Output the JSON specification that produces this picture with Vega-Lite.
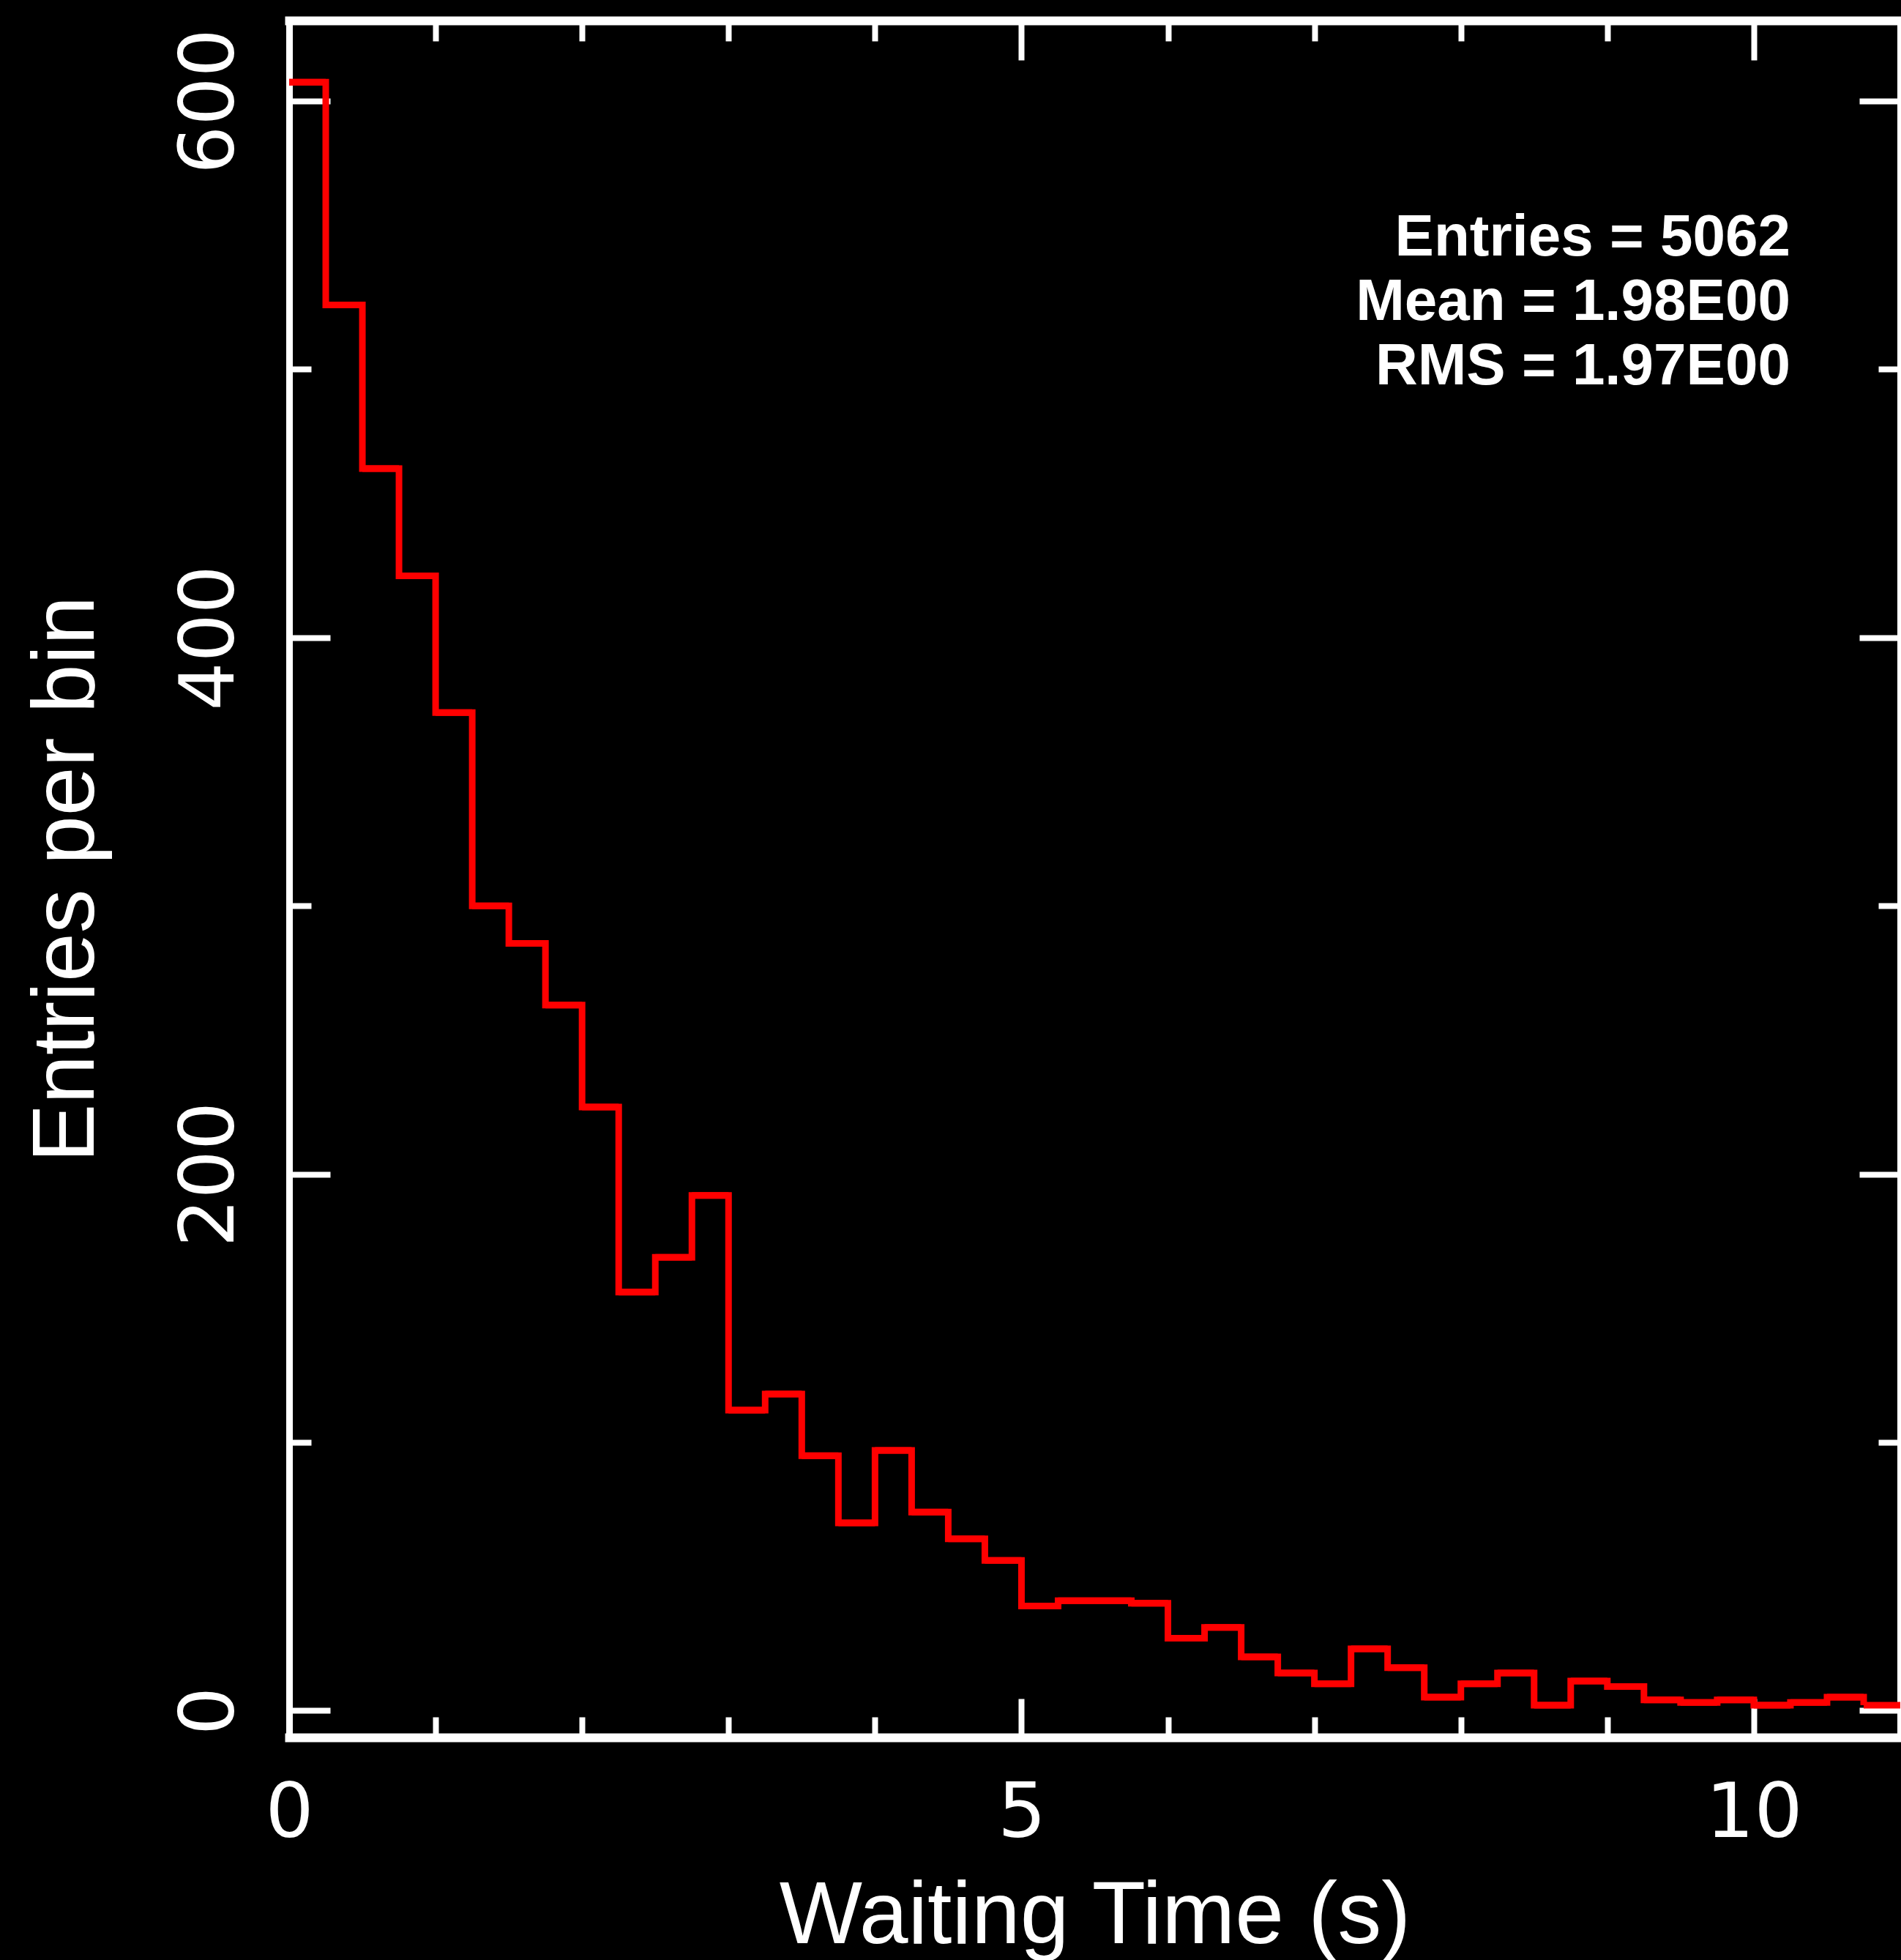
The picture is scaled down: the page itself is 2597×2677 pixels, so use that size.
{
  "$schema": "https://vega.github.io/schema/vega-lite/v6.json",
  "background": "black",
  "autosize": {"type": "none"},
  "padding": {"left": 395, "top": 28, "right": 1, "bottom": 304},
  "width": 2201,
  "height": 2345,
  "config": {
    "view": {"stroke": null},
    "axis": {
      "grid": false,
      "domainColor": "white",
      "tickColor": "white",
      "labelColor": "white",
      "titleColor": "white",
      "tickWidth": 8,
      "labelFlush": false,
      "labelOverlap": false,
      "labelBound": false,
      "labelLimit": 0
    }
  },
  "data": {
    "values": [
      {"lo": 0.0, "hi": 0.25, "n": 607},
      {"lo": 0.25, "hi": 0.5, "n": 524},
      {"lo": 0.5, "hi": 0.75, "n": 463},
      {"lo": 0.75, "hi": 1.0, "n": 423},
      {"lo": 1.0, "hi": 1.25, "n": 372},
      {"lo": 1.25, "hi": 1.5, "n": 300},
      {"lo": 1.5, "hi": 1.75, "n": 286},
      {"lo": 1.75, "hi": 2.0, "n": 263},
      {"lo": 2.0, "hi": 2.25, "n": 225},
      {"lo": 2.25, "hi": 2.5, "n": 156},
      {"lo": 2.5, "hi": 2.75, "n": 169},
      {"lo": 2.75, "hi": 3.0, "n": 192},
      {"lo": 3.0, "hi": 3.25, "n": 112},
      {"lo": 3.25, "hi": 3.5, "n": 118},
      {"lo": 3.5, "hi": 3.75, "n": 95},
      {"lo": 3.75, "hi": 4.0, "n": 70},
      {"lo": 4.0, "hi": 4.25, "n": 97},
      {"lo": 4.25, "hi": 4.5, "n": 74},
      {"lo": 4.5, "hi": 4.75, "n": 64},
      {"lo": 4.75, "hi": 5.0, "n": 56},
      {"lo": 5.0, "hi": 5.25, "n": 39},
      {"lo": 5.25, "hi": 5.5, "n": 41},
      {"lo": 5.5, "hi": 5.75, "n": 41},
      {"lo": 5.75, "hi": 6.0, "n": 40},
      {"lo": 6.0, "hi": 6.25, "n": 27},
      {"lo": 6.25, "hi": 6.5, "n": 31},
      {"lo": 6.5, "hi": 6.75, "n": 20},
      {"lo": 6.75, "hi": 7.0, "n": 14},
      {"lo": 7.0, "hi": 7.25, "n": 10},
      {"lo": 7.25, "hi": 7.5, "n": 23},
      {"lo": 7.5, "hi": 7.75, "n": 16},
      {"lo": 7.75, "hi": 8.0, "n": 5},
      {"lo": 8.0, "hi": 8.25, "n": 10},
      {"lo": 8.25, "hi": 8.5, "n": 14},
      {"lo": 8.5, "hi": 8.75, "n": 2},
      {"lo": 8.75, "hi": 9.0, "n": 11},
      {"lo": 9.0, "hi": 9.25, "n": 9},
      {"lo": 9.25, "hi": 9.5, "n": 4},
      {"lo": 9.5, "hi": 9.75, "n": 3},
      {"lo": 9.75, "hi": 10.0, "n": 4},
      {"lo": 10.0, "hi": 10.25, "n": 2},
      {"lo": 10.25, "hi": 10.5, "n": 3},
      {"lo": 10.5, "hi": 10.75, "n": 5},
      {"lo": 10.75, "hi": 11.0, "n": 2}
    ]
  },
  "layer": [
    {
      "mark": {"type": "line", "interpolate": "step-after", "stroke": "#ff0000", "strokeWidth": 9, "strokeJoin": "miter", "strokeCap": "butt"},
      "encoding": {
        "x": {
          "field": "lo",
          "type": "quantitative",
          "scale": {"domain": [0, 11], "nice": false, "zero": false},
          "axis": {
            "orient": "bottom",
            "values": [0, 1, 2, 3, 4, 5, 6, 7, 8, 9, 10, 11],
            "labelExpr": "datum.value % 5 === 0 ? datum.label : ''",
            "domainWidth": 12,
            "domainCap": "square",
            "tickSize": {"condition": {"test": "datum.value % 5 === 0", "value": -53}, "value": -28},
            "labelFont": "DejaVu Sans",
            "labelFontSize": 104,
            "labelPadding": 106,
            "title": "Waiting Time (s)",
            "titleFont": "Liberation Sans",
            "titleFontSize": 120,
            "titleFontWeight": "normal",
            "titlePadding": 4
          }
        },
        "y": {
          "field": "n",
          "type": "quantitative",
          "scale": {"domain": [-10, 630], "nice": false, "zero": false},
          "axis": {
            "orient": "left",
            "values": [0, 100, 200, 300, 400, 500, 600],
            "labelExpr": "datum.value % 200 === 0 ? datum.label : ''",
            "domainWidth": 9,
            "tickSize": {"condition": {"test": "datum.value % 200 === 0", "value": -56}, "value": -30},
            "labelFont": "DejaVu Sans",
            "labelFontSize": 104,
            "labelAngle": -90,
            "labelAlign": "center",
            "labelBaseline": "alphabetic",
            "labelPadding": 133,
            "title": "Entries per bin",
            "titleFont": "Liberation Sans",
            "titleFontSize": 120,
            "titleFontWeight": "normal",
            "titlePadding": 57
          }
        }
      }
    },
    {
      "mark": {"type": "rule", "stroke": "#ff0000", "strokeWidth": 9},
      "encoding": {
        "x": {
          "field": "lo",
          "type": "quantitative",
          "axis": {
            "orient": "top",
            "values": [0, 1, 2, 3, 4, 5, 6, 7, 8, 9, 10, 11],
            "labels": false,
            "domainWidth": 12,
            "domainCap": "square",
            "tickSize": {"condition": {"test": "datum.value % 5 === 0", "value": -54}, "value": -28},
            "title": null
          }
        },
        "x2": {"field": "hi"},
        "y": {
          "field": "n",
          "type": "quantitative",
          "axis": {
            "orient": "right",
            "values": [0, 100, 200, 300, 400, 500, 600],
            "labels": false,
            "domainWidth": 9,
            "tickSize": {"condition": {"test": "datum.value % 200 === 0", "value": -56}, "value": -30},
            "title": null
          }
        }
      }
    },
    {
      "data": {"values": [{"stats": "Entries = 5062\nMean = 1.98E00\nRMS = 1.97E00"}]},
      "mark": {
        "type": "text",
        "align": "right",
        "baseline": "alphabetic",
        "font": "Liberation Sans",
        "fontWeight": "bold",
        "fontSize": 80,
        "lineBreak": "\n",
        "lineHeight": 88,
        "fill": "white"
      },
      "encoding": {
        "x": {"datum": 10.25, "type": "quantitative", "axis": null},
        "y": {"datum": 542.5, "type": "quantitative", "axis": null},
        "text": {"field": "stats", "type": "nominal"}
      }
    }
  ],
  "resolve": {"axis": {"x": "independent", "y": "independent"}}
}
